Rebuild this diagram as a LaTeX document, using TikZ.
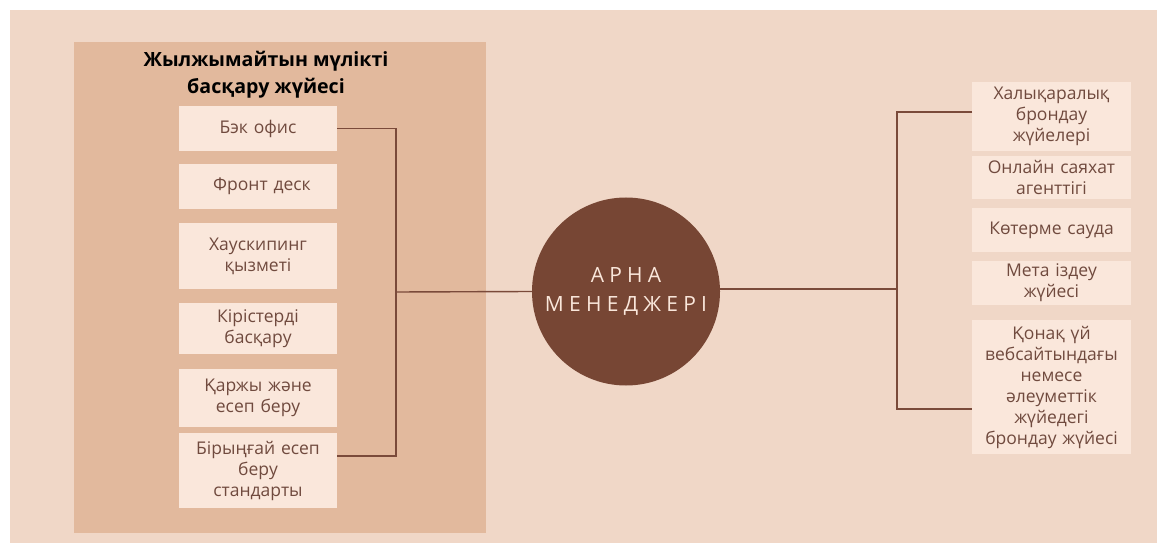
\documentclass[tikz,border=0pt]{standalone}
\usepackage{fontspec}
\setmainfont{Open Sans}
\definecolor{bgc}{RGB}{240,215,199}
\definecolor{panelc}{RGB}{226,185,157}
\definecolor{boxc}{RGB}{250,231,219}
\definecolor{txtc}{RGB}{112,74,62}
\definecolor{linec}{RGB}{122,74,58}
\definecolor{hubc}{RGB}{119,70,52}
\begin{document}
\begin{tikzpicture}[x=1pt,y=-1pt,
  item/.style={fill=boxc,draw=none,text=txtc,align=center,inner sep=0pt,
    font=\fontsize{17.5}{21}\selectfont,text width=156pt},
  link/.style={draw=linec,line width=1.4pt}]
\useasboundingbox (0,0) rectangle (1162,545);
\fill[white] (0,0) rectangle (1162,545);
\fill[bgc] (10,10) rectangle (1157,543);
\fill[panelc] (74,42) rectangle (486,533);
\node[font=\fontsize{19.6}{27}\selectfont\bfseries,align=center,text=black] (title) at (266,75) {Жылжымайтын мүлікті\\басқару жүйесі};
% left items
\node[item,minimum width=158pt,minimum height=45pt] (L1) at (258,128.5) {Бэк офис};
\node[item,minimum width=158pt,minimum height=45pt] (L2) at (258,186.5) {\hspace*{8pt}Фронт деск};
\node[item,minimum width=158pt,minimum height=66pt] (L3) at (258,256) {Хаускипинг\\қызметі};
\node[item,minimum width=158pt,minimum height=51pt] (L4) at (258,328.5) {Кірістерді\\басқару};
\node[item,minimum width=158pt,minimum height=58pt] (L5) at (258,398) {Қаржы және\\есеп беру};
\node[item,minimum width=158pt,minimum height=75pt] (L6) at (258,470.5) {Бірыңғай есеп\\беру\\стандарты};
% hub
\node[circle,fill=hubc,minimum size=188pt,inner sep=0pt,text=boxc,align=center,
  font=\fontsize{21}{29}\selectfont\addfontfeature{LetterSpace=25}] (hub) at (626,291.5) {АРНА\\МЕНЕДЖЕРІ};
% right items
\node[item,minimum width=159pt,minimum height=69pt] (R1) at (1051.5,116.5) {Халықаралық\\брондау\\жүйелері};
\node[item,minimum width=159pt,minimum height=43pt] (R2) at (1051.5,177.5) {Онлайн саяхат\\агенттігі};
\node[item,minimum width=159pt,minimum height=44pt] (R3) at (1051.5,230) {Көтерме сауда};
\node[item,minimum width=159pt,minimum height=44pt] (R4) at (1051.5,283) {Мета іздеу\\жүйесі};
\node[item,minimum width=159pt,minimum height=134pt] (R5) at (1051.5,387) {Қонақ үй\\вебсайтындағы\\немесе\\әлеуметтік\\жүйедегі\\брондау жүйесі};
% connectors
\coordinate (jl) at (396,292);
\coordinate (L6c) at (337,456);
\coordinate (jr) at (897,289);
\coordinate (R1c) at (972,112);
\coordinate (R5c) at (972,409);
\draw[link] (L1.east) -| (jl) |- (L6c);
\draw[link] (jl) -- (hub.west);
\draw[link] (hub.east |- jr) -- (jr);
\draw[link] (R1c) -| (jr) |- (R5c);
\end{tikzpicture}
\end{document}
